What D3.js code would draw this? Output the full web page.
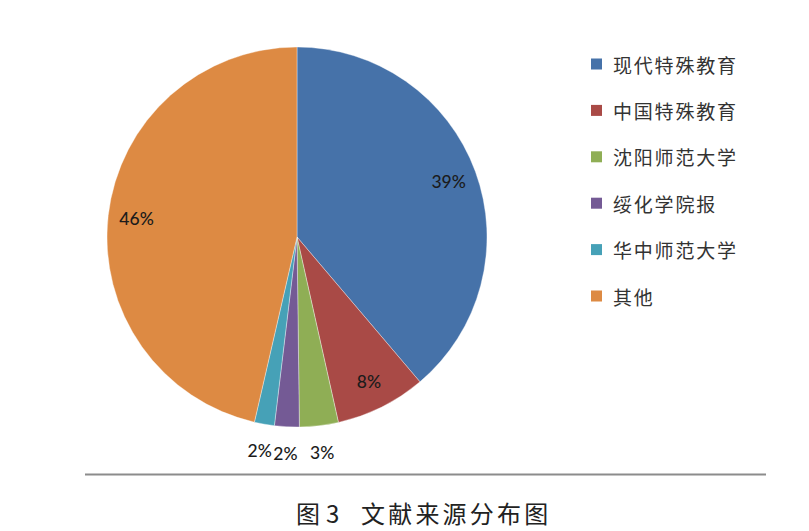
<!DOCTYPE html>
<html><head><meta charset="utf-8">
<script src="https://cdn.jsdelivr.net/npm/d3@7"></script>
<style>html,body{margin:0;padding:0;background:#fff;}svg{display:block;}</style>
</head><body>
<svg id="chart" width="809" height="531"></svg>
<script>
const categories = ["现代特殊教育","中国特殊教育","沈阳师范大学","绥化学院报","华中师范大学","其他"];
const values = [38.8, 7.7, 3.3, 2.1, 1.7, 46.4];
const labels = ["39%","8%","3%","2%","2%","46%"];
const colors = ["#4672A9","#A94A46","#8FAE55","#745A95","#46A1B7","#DD8A43"];
const caption = "图3 文献来源分布图";

const svg = d3.select("#chart");
const cx = 297, cy = 237, R = 190;
const pie = d3.pie().sort(null).value(d => d).startAngle(0).endAngle(2*Math.PI);
const arcs = pie(values);
const arc = d3.arc().innerRadius(0).outerRadius(R);
const g = svg.append("g").attr("transform", `translate(${cx},${cy})`);
g.selectAll("path").data(arcs).join("path")
  .attr("d", arc)
  .attr("fill", (d,i) => colors[i])
  .attr("stroke", "#ffffff").attr("stroke-width", 0.6).attr("stroke-opacity", 0.6);

const inArc = d3.arc().innerRadius(R*0.85).outerRadius(R*0.85);
const outArc = d3.arc().innerRadius(R+27).outerRadius(R+27);
g.selectAll("text.lbl").data(arcs).join("text")
  .attr("class","lbl")
  .attr("transform", (d) => {
    const share = (d.endAngle - d.startAngle) / (2*Math.PI);
    const p = share > 0.05 ? inArc.centroid(d) : outArc.centroid(d);
    return `translate(${p[0]},${p[1]})`;
  })
  .attr("text-anchor","middle").attr("dominant-baseline","central")
  .attr("font-family","Lato, 'Open Sans', sans-serif").attr("font-size",17.5)
  .attr("font-weight",500)
  .attr("fill","#1b1b1b")
  .text((d,i) => labels[i]);

// legend
const legend = svg.append("g").attr("transform","translate(591,64)");
const rows = legend.selectAll("g").data(categories).join("g")
  .attr("transform",(d,i)=>`translate(0,${i*46.4})`);
rows.append("rect").attr("x",0).attr("y",-5.5).attr("width",11).attr("height",11)
  .attr("fill",(d,i)=>colors[i]);
rows.append("text").attr("x",22).attr("y",0).attr("dominant-baseline","central")
  .attr("font-family","'Noto Sans CJK SC', sans-serif").attr("font-size",19)
  .attr("letter-spacing",1.8).attr("fill","#333")
  .text(d=>d);

// rule
svg.append("line").attr("x1",85).attr("x2",766).attr("y1",474.5).attr("y2",474.5)
  .attr("stroke","#8c8c8c").attr("stroke-width",2);

// caption
const parts = caption.split(" ");
const cap = svg.append("text").attr("y",512).attr("dominant-baseline","central")
  .attr("font-family","'Noto Sans CJK SC', sans-serif").attr("font-size",24)
  .attr("fill","#222");
cap.append("tspan").attr("x",296).attr("letter-spacing",6).text(parts[0]);
cap.append("tspan").attr("x",361).attr("letter-spacing",3.2).text(parts[1]);
</script>
</body></html>
